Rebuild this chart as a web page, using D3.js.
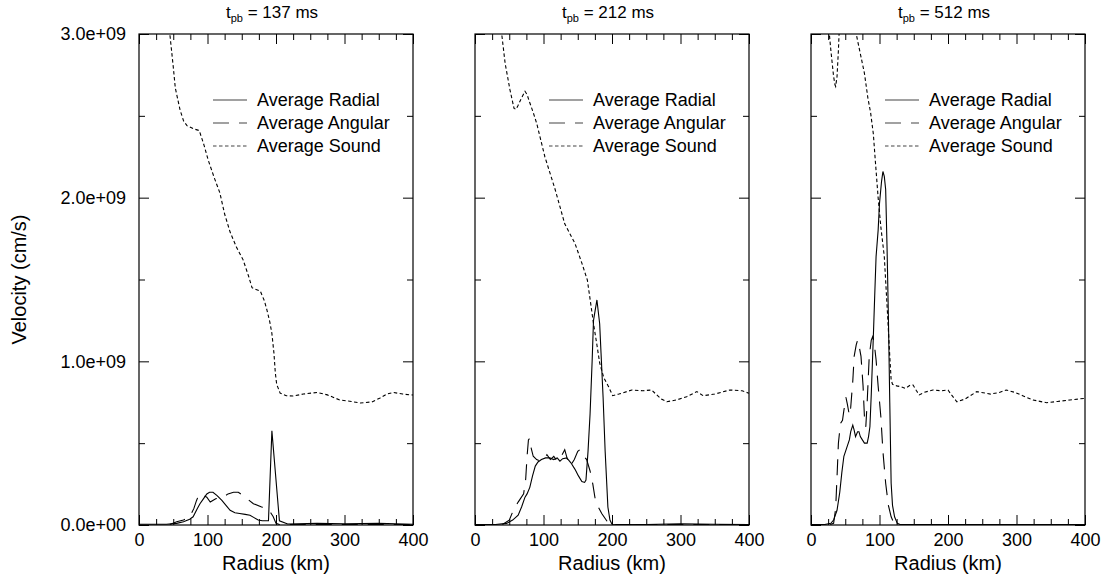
<!DOCTYPE html>
<html lang="en">
<head>
<meta charset="UTF-8">
<title>Velocity profiles</title>
<style>
  body { margin: 0; background: #fff; }
  text, tspan { font-family: "Liberation Sans", Arial, Helvetica, sans-serif; fill: #000; }
</style>
</head>
<body>
<script src="https://d3js.org/d3.v7.min.js"></script>
<div id="chart"></div>
<script>

// ---- data (velocities in units of 1e9 cm/s, radius in km) ----
var panelTitles = ["137 ms", "212 ms", "512 ms"];
var legendLabels = ["Average Radial", "Average Angular", "Average Sound"];
var yTickValues = [0, 1, 2, 3];
var yTickLabels = ["0.0e+00", "1.0e+09", "2.0e+09", "3.0e+09"];
var xTickValues = [0, 100, 200, 300, 400];

// t_pb = 137 ms
var radial137 = [[0,0.005],[20,0.005],[40,0.005],[55,0.01],[65,0.02],[74,0.035],[79,0.05],[85,0.1],[89,0.13],[94,0.16],[99,0.19],[103,0.2],[108,0.2],[114,0.18],[121,0.15],[127,0.12],[133,0.09],[140,0.075],[147,0.07],[155,0.065],[162,0.06],[168,0.045],[174,0.03],[180,0.026],[189,0.026],[194,0.575],[205,0.026],[217,0.006],[260,0.01],[300,0.008],[350,0.01],[400,0.005]];
var angular137 = [[45,0.003],[55,0.02],[65,0.03],[74,0.05],[80,0.1],[84,0.15],[88,0.19],[94,0.18],[99,0.17],[104,0.14],[112,0.16],[123,0.17],[130,0.19],[138,0.2],[145,0.2],[155,0.17],[167,0.13],[179,0.11],[188,0.1],[193,0.07],[196,0.05],[200,0.01],[205,0.003],[400,0.003]];
var sound137 = [[40,3.1],[45,3.0],[50,2.8],[53,2.67],[60,2.535],[65,2.47],[70,2.44],[80,2.42],[88,2.41],[95,2.32],[101,2.23],[110,2.12],[118,2.03],[125,1.9],[133,1.79],[142,1.7],[152,1.62],[160,1.52],[165,1.45],[170,1.44],[177,1.43],[183,1.37],[187,1.31],[191,1.24],[194,1.17],[197,1.05],[199,0.93],[201,0.86],[206,0.806],[215,0.79],[225,0.788],[240,0.8],[260,0.81],[275,0.795],[293,0.764],[310,0.755],[323,0.745],[340,0.752],[352,0.776],[362,0.8],[371,0.81],[385,0.8],[400,0.794]];

// t_pb = 212 ms
var radial212 = [[0,0.003],[30,0.003],[46,0.01],[55,0.03],[63,0.06],[68,0.11],[73,0.17],[76,0.19],[80,0.23],[84,0.3],[88,0.36],[92,0.385],[97,0.4],[103,0.41],[109,0.41],[115,0.4],[120,0.41],[124,0.39],[128,0.405],[134,0.41],[140,0.38],[146,0.34],[151,0.3],[156,0.265],[160,0.26],[162,0.275],[165,0.45],[168,0.68],[171,1.0],[173,1.25],[178,1.375],[182,1.23],[184,1.05],[187,0.78],[190,0.45],[194,0.11],[197,0.03],[200,0.005],[250,0.003],[300,0.008],[350,0.005],[400,0.003]];
var angular212 = [[40,0.003],[50,0.03],[56,0.09],[63,0.14],[71,0.19],[74,0.28],[76,0.42],[78,0.52],[80,0.53],[82,0.47],[85,0.42],[90,0.4],[95,0.39],[100,0.4],[105,0.43],[110,0.4],[115,0.42],[120,0.39],[126,0.42],[131,0.46],[135,0.4],[139,0.36],[145,0.4],[150,0.45],[153,0.46],[157,0.43],[163,0.4],[168,0.33],[172,0.25],[175,0.17],[180,0.11],[185,0.07],[190,0.04],[196,0.003],[400,0.003]];
var sound212 = [[36,3.1],[39,3.0],[44,2.82],[51,2.66],[57,2.545],[60,2.54],[63,2.565],[68,2.61],[73,2.65],[76,2.63],[80,2.58],[85,2.52],[90,2.455],[102,2.25],[117,2.05],[131,1.84],[146,1.72],[156,1.6],[164,1.497],[168,1.38],[173,1.23],[178,1.1],[182,0.99],[188,0.9],[195,0.845],[201,0.79],[210,0.8],[229,0.825],[245,0.82],[258,0.825],[264,0.8],[272,0.77],[280,0.753],[295,0.765],[309,0.784],[324,0.815],[333,0.79],[350,0.8],[372,0.825],[390,0.82],[400,0.805]];

// t_pb = 512 ms
var radial512 = [[0,0.003],[20,0.003],[29,0.01],[33,0.03],[38,0.09],[42,0.2],[45,0.32],[48,0.42],[52,0.47],[56,0.52],[58,0.57],[61,0.61],[63,0.58],[65,0.54],[68,0.57],[70,0.57],[72,0.54],[75,0.52],[78,0.5],[82,0.5],[84,0.54],[86,0.6],[88,0.8],[91,1.15],[93,1.4],[95,1.64],[98,1.8],[100,1.965],[103,2.1],[105,2.16],[107,2.13],[109,2.05],[111,1.7],[113,1.27],[115,0.75],[117,0.255],[119,0.12],[122,0.05],[126,0.01],[130,0.003],[400,0.003]];
var angular512 = [[28,0.003],[33,0.01],[36,0.1],[38,0.295],[40,0.5],[43,0.62],[46,0.64],[48,0.7],[51,0.78],[53,0.74],[56,0.67],[58,0.72],[61,0.88],[63,1.03],[66,1.1],[68,1.13],[70,1.1],[73,1.03],[76,0.85],[78,0.66],[80,0.6],[82,0.75],[85,1.03],[88,1.13],[90,1.15],[92,1.12],[95,1.01],[98,0.85],[102,0.66],[105,0.45],[109,0.255],[113,0.12],[117,0.05],[122,0.003],[400,0.003]];
var sound512 = [[26,3.1],[27,2.99],[29,2.9],[31,2.82],[33,2.74],[35,2.69],[36,2.68],[38,2.74],[39,2.82],[40,2.9],[41,3.0],[42,3.1],[45,3.3],[62,3.3],[66,3.0],[72,2.88],[78,2.76],[83,2.61],[87,2.52],[91,2.39],[94,2.22],[98,2.0],[102,1.82],[107,1.64],[112,1.27],[115,1.03],[117,0.886],[119,0.86],[125,0.85],[131,0.845],[138,0.835],[145,0.855],[149,0.855],[154,0.82],[158,0.795],[165,0.81],[178,0.825],[190,0.82],[200,0.825],[206,0.79],[213,0.753],[225,0.77],[242,0.815],[262,0.8],[275,0.81],[285,0.825],[298,0.81],[309,0.79],[324,0.764],[344,0.747],[360,0.755],[378,0.764],[400,0.774]];

var panels = [
  { title: panelTitles[0], series: [radial137, angular137, sound137] },
  { title: panelTitles[1], series: [radial212, angular212, sound212] },
  { title: panelTitles[2], series: [radial512, angular512, sound512] }
];

// line styles for radial / angular / sound
var dashes = ["none", "16,10", "3.5,2.5"];

// ---- layout ----
var W = 1109, H = 582;
var left0 = 139, top0 = 34;
var pw = 274, ph = 491, gap = 62;

var svg = d3.select("#chart").append("svg")
  .attr("width", W)
  .attr("height", H);

var x = d3.scaleLinear().domain([0, 400]).range([0, pw]);
var y = d3.scaleLinear().domain([0, 3]).range([ph, 0]);

var line = d3.line()
  .x(function(d) { return x(d[0]); })
  .y(function(d) { return y(d[1]); });

var xMinor = d3.range(0, 401, 25).filter(function(v) { return v % 100 !== 0; });
var yMinor = [0.5, 1.5, 2.5];

svg.append("defs").append("clipPath")
  .attr("id", "clip")
  .append("rect")
  .attr("width", pw)
  .attr("height", ph);

panels.forEach(function(p, i) {
  var g = svg.append("g")
    .attr("transform", "translate(" + (left0 + i * (pw + gap)) + "," + top0 + ")");

  // curves
  var plot = g.append("g").attr("clip-path", "url(#clip)");
  p.series.forEach(function(s, k) {
    plot.append("path")
      .datum(s)
      .attr("d", line)
      .attr("fill", "none")
      .attr("stroke", "#000")
      .attr("stroke-width", 1.1)
      .attr("stroke-dasharray", dashes[k]);
  });

  // axes: ticks point inward on all four sides
  var bottom = g.append("g").attr("transform", "translate(0," + ph + ")")
    .call(d3.axisBottom(x).tickValues(xTickValues).tickSize(-10).tickPadding(8).tickFormat(d3.format("d")));
  g.append("g").attr("transform", "translate(0," + ph + ")")
    .call(d3.axisBottom(x).tickValues(xMinor).tickSize(-6).tickFormat(""));
  g.append("g")
    .call(d3.axisTop(x).tickValues(xTickValues).tickSize(-10).tickFormat(""));
  g.append("g")
    .call(d3.axisTop(x).tickValues(xMinor).tickSize(-6).tickFormat(""));

  var leftAx = g.append("g")
    .call(d3.axisLeft(y).tickValues(yTickValues).tickSize(-10).tickPadding(13)
      .tickFormat(function(d, j) { return i === 0 ? yTickLabels[j] : ""; }));
  g.append("g")
    .call(d3.axisLeft(y).tickValues(yMinor).tickSize(-6).tickFormat(""));
  g.append("g").attr("transform", "translate(" + pw + ",0)")
    .call(d3.axisRight(y).tickValues(yTickValues).tickSize(-10).tickFormat(""));
  g.append("g").attr("transform", "translate(" + pw + ",0)")
    .call(d3.axisRight(y).tickValues(yMinor).tickSize(-6).tickFormat(""));

  g.selectAll(".domain").remove();
  g.selectAll(".tick line").attr("stroke", "#000").attr("stroke-width", 1);
  bottom.selectAll("text").style("font-size", "18px").style("font-family", null);
  leftAx.selectAll("text").style("font-size", "18px").style("font-family", null);

  g.append("rect")
    .attr("width", pw)
    .attr("height", ph)
    .attr("fill", "none")
    .attr("stroke", "#000")
    .attr("stroke-width", 1.2);

  // title
  var t = g.append("text")
    .attr("x", pw / 2 - 4)
    .attr("y", -16)
    .attr("text-anchor", "middle")
    .style("font-size", "17px");
  t.append("tspan").text("t");
  t.append("tspan").attr("dy", 4).style("font-size", "11px").text("pb");
  t.append("tspan").attr("dy", -4).text(" = " + p.title);

  // x label
  g.append("text")
    .attr("x", pw / 2)
    .attr("y", ph + 45)
    .attr("text-anchor", "middle")
    .style("font-size", "20px")
    .text("Radius (km)");

  // legend
  var leg = g.append("g");
  legendLabels.forEach(function(lab, k) {
    var ly = 66 + k * 23;
    leg.append("line")
      .attr("x1", 74).attr("x2", 108)
      .attr("y1", ly).attr("y2", ly)
      .attr("stroke", "#444")
      .attr("stroke-width", 1.2)
      .attr("stroke-dasharray", dashes[k]);
    leg.append("text")
      .attr("x", 118)
      .attr("y", ly + 6)
      .style("font-size", "18px")
      .text(lab);
  });
});

// y label
svg.append("text")
  .attr("transform", "translate(26," + (top0 + ph / 2) + ") rotate(-90)")
  .attr("text-anchor", "middle")
  .style("font-size", "20px")
  .text("Velocity (cm/s)");

</script>
</body>
</html>
